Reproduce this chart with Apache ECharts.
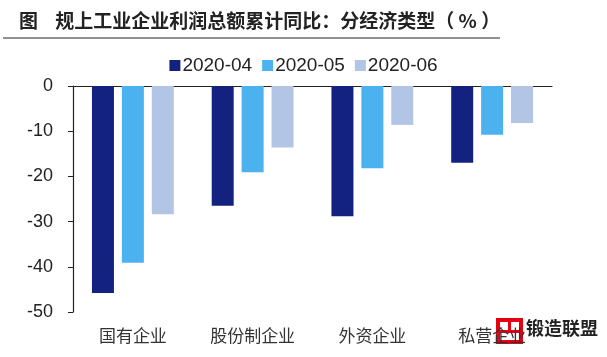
<!DOCTYPE html>
<html><head><meta charset="utf-8">
<script src="https://cdn.jsdelivr.net/npm/echarts@6/dist/echarts.min.js"></script>
<style>html,body{margin:0;padding:0;background:#fff}#c{width:607px;height:357px}</style>
</head><body><div id="c"></div>
<script>
const categories = ['国有企业', '股份制企业', '外资企业', '私营企业'];
const seriesNames = ['2020-04', '2020-05', '2020-06'];
const apr = [-45.8, -26.5, -28.8, -17.0];
const may = [-39.1, -19.1, -18.2, -10.8];
const jun = [-28.4, -13.6, -8.6, -8.2];
const colors = ['#13227f', '#4cb1ef', '#b3c5e4'];
const yTicks = [0, -10, -20, -30, -40, -50];

const chart = echarts.init(document.getElementById('c'));
const dataSets = [apr, may, jun];
chart.setOption({
  animation: false,
  title: {
    text: '图    规上工业企业利润总额累计同比：分经济类型（ % ）',
    left: 14, top: 6,
    textStyle: { fontFamily: 'Noto Sans CJK SC', fontSize: 19, fontWeight: 'bold', color: '#222' }
  },
  graphic: [
    { type: 'line', shape: { x1: 3, y1: 38, x2: 500, y2: 38 }, style: { stroke: '#222', lineWidth: 1.2 } },
    { type: 'rect', shape: { x: 496, y: 318, width: 27, height: 26 }, style: { fill: '#e60012' } },
    { type: 'rect', shape: { x: 500, y: 322, width: 8, height: 8 }, style: { fill: '#fff' } },
    { type: 'rect', shape: { x: 511, y: 322, width: 8, height: 8 }, style: { fill: '#fff' } },
    { type: 'rect', shape: { x: 500, y: 333, width: 19, height: 7 }, style: { fill: '#fff' } },
    { type: 'text', left: 526, top: 319, style: { text: '锻造联盟', font: 'bold 18px "Noto Sans CJK SC"', fill: '#222' } }
  ],
  legend: {
    data: seriesNames,
    top: 51, left: 'center',
    itemWidth: 11, itemHeight: 11, itemGap: 10,
    icon: 'rect',
    textStyle: { fontFamily: 'Arial, Liberation Sans', fontSize: 19, color: '#222', padding: [0, 0, 0, -3] }
  },
  grid: { left: 73, right: 55, top: 86, bottom: 45 },
  xAxis: [
    {
      type: 'category', data: categories, position: 'top',
      axisLine: { onZero: false, lineStyle: { color: '#222', width: 1.2 } },
      axisTick: { inside: true, length: 5, lineStyle: { color: '#222' } },
      axisLabel: { show: false }
    },
    {
      type: 'category', data: categories, position: 'bottom',
      axisLine: { show: false }, axisTick: { show: false },
      axisLabel: { margin: 15, fontFamily: 'Noto Sans CJK SC', fontSize: 17, color: '#333' }
    }
  ],
  yAxis: {
    type: 'value', min: -50, max: 0, interval: 10,
    axisLine: { show: true, lineStyle: { color: '#222', width: 1.2 } },
    axisTick: { show: true, length: 5, lineStyle: { color: '#222' } },
    splitLine: { show: false },
    axisLabel: { margin: 20, fontFamily: 'Arial, Liberation Sans', fontSize: 18, color: '#222',
      formatter: v => yTicks.includes(v) ? String(v) : '' }
  },
  series: seriesNames.map((n, i) => ({
    name: n, type: 'bar', xAxisIndex: 0, data: dataSets[i],
    barWidth: 22, barGap: '36%', barCategoryGap: '31%',
    itemStyle: { color: colors[i] }
  }))
});
</script></body></html>
